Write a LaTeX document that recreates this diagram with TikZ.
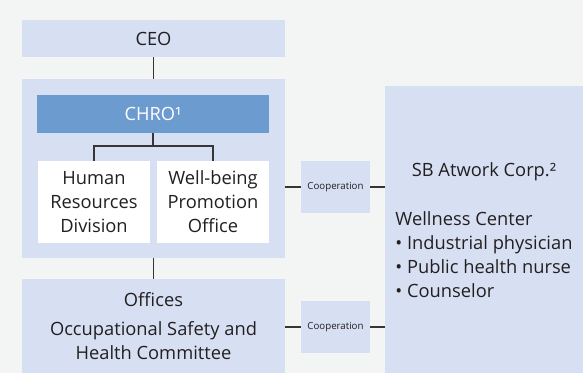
\documentclass[tikz,border=0pt]{standalone}
\usepackage{fontspec}
\setmainfont{Open Sans}
\usepackage{xcolor}
\definecolor{pageback}{HTML}{F3F4F4}
\definecolor{paleblue}{HTML}{D7E0F3}
\definecolor{midblue}{HTML}{6C9BD0}
\definecolor{inkgray}{HTML}{231F20}

\tikzset{
  box/.style={fill=paleblue, inner sep=0pt, text=inkgray, align=center,
    font=\fontsize{18.3}{24}\selectfont},
  unitbox/.style={box, fill=white, minimum width=112pt, minimum height=82pt},
  coopbox/.style={box, minimum width=69pt, minimum height=52pt,
    font=\fontsize{9.7}{11}\selectfont},
  link/.style={draw=inkgray!90, line width=1.1pt},
}

\begin{document}
\begin{tikzpicture}[x=1pt,y=-1pt]
    \fill[pageback] (0,0) rectangle (583,373);
    \useasboundingbox (0,0) rectangle (583,373);

    % left column
    \node[box, minimum width=263pt, minimum height=37pt] (ceo) at (153.5,38.5) {CEO};
    \node[box, minimum width=263pt, minimum height=179pt] (group) at (153.5,168.5) {};
    \node[box, fill=midblue, text=white, minimum width=232pt, minimum height=38pt] (chro) at (153,114) {CHRO¹};
    \node[unitbox] (hr) at (94,202) {Human\\Resources\\Division};
    \node[unitbox] (wb) at (213,202) {Well-being\\Promotion\\Office};
    \node[box, minimum width=263pt, minimum height=94pt] (offices) at (153.5,326)
        {Offices\\[5pt]Occupational Safety and\\Health Committee};

    % right column
    \node[coopbox] (coopa) at (335.5,187) {Cooperation};
    \node[coopbox] (coopb) at (335.5,327) {Cooperation};
    \node[box, minimum width=198pt, minimum height=287pt] (atwork) at (484,229.5)
        {\begin{tabular}{@{}l@{}}
            \multicolumn{1}{@{}c@{}}{\rule{0pt}{23pt}SB Atwork Corp.²}\\[25pt]
            Wellness Center\\
            \textbullet\ Industrial physician\\
            \textbullet\ Public health nurse\\
            \textbullet\ Counselor
        \end{tabular}};

    % links
    \draw[link] (ceo.south) -- (group.north);
    \draw[link] (group.south) -- (offices.north);
    \coordinate (fork) at (153,146);
    \draw[link] (chro.south) -- (fork) -| (hr.north);
    \draw[link] (fork) -| (wb.north);
    \draw[link] (group.east |- coopa) -- (coopa.west);
    \draw[link] (coopa.east) -- (atwork.west |- coopa);
    \draw[link] (offices.east |- coopb) -- (coopb.west);
    \draw[link] (coopb.east) -- (atwork.west |- coopb);
\end{tikzpicture}
\end{document}
